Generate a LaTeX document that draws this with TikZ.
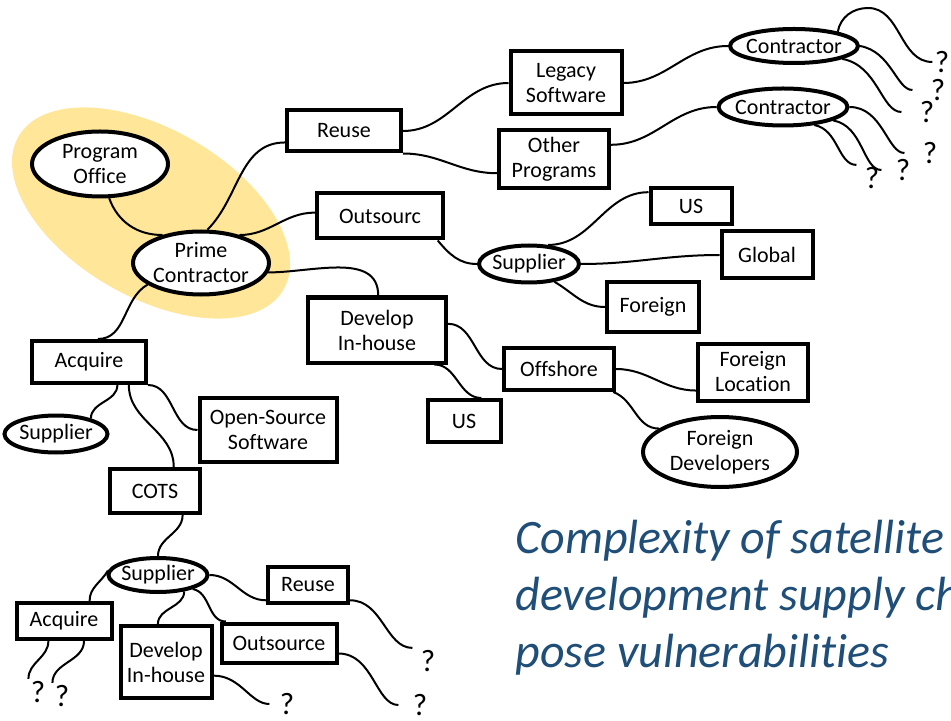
\documentclass[tikz,border=0pt]{standalone}
\usepackage{fontspec}
\setmainfont{Carlito}[Ligatures=NoCommon]
\usepackage{xcolor}
\usetikzlibrary{shapes.geometric}
\definecolor{haloYellow}{HTML}{FFE699}
\definecolor{titleBlue}{HTML}{1F4E79}

\begin{document}
\begin{tikzpicture}[
    x=0.5pt, y=0.5pt,
    dims/.style 2 args={minimum width=#1*0.5pt, minimum height=#2*0.5pt},
    chainbox/.style={draw, line width=2pt, rectangle, fill=white,
                     inner sep=0pt, align=center,
                     font=\fontsize{11}{12.5}\selectfont},
    chainoval/.style={draw, line width=2pt, ellipse, fill=white,
                      inner sep=-4pt, align=center,
                      font=\fontsize{11}{12.5}\selectfont},
    link/.style={line width=1pt},
    qmark/.style={inner sep=1pt, font=\fontsize{15.5}{16}\selectfont}
  ]
  \useasboundingbox (0,0) rectangle (951,-721);
  \clip (0,0) rectangle (951,-721);

  % highlight round the program office and the prime
  \fill[haloYellow] (151,-213) circle [x radius=153, y radius=84, rotate=-30];

  % top of the chain
  \node[chainoval, dims={136}{65}] (office) at (100,-164) {Program\\Office};
  \node[chainoval, dims={136}{63}] (prime)  at (201,-263) {Prime\\Contractor};

  % reuse branch
  \node[chainbox, dims={114}{41}]  (reuse)  at (344,-131) {Reuse};
  \node[chainbox, dims={111}{63}]  (legacy) at (566,-83)  {Legacy\\Software};
  \node[chainbox, dims={110}{58}]  (other)  at (554,-159) {Other\\Programs};
  \node[chainoval, dims={128}{34}] (conA)   at (794,-46)  {Contractor};
  \node[chainoval, dims={129}{37}] (conB)   at (783,-107) {Contractor};

  % outsource branch
  \node[chainbox, dims={126}{45}]  (outs)   at (380,-216) {Outsourc};
  \node[chainoval, dims={100}{37}] (supM)   at (529,-264) {Supplier};
  \node[chainbox, dims={81}{36}]   (usA)    at (691,-206) {US};
  \node[chainbox, dims={91}{47}]   (glob)   at (767,-255) {Global};
  \node[chainbox, dims={92}{50}]   (forn)   at (653,-307) {Foreign};

  % in-house branch
  \node[chainbox, dims={138}{65}]  (devM)   at (377,-330) {Develop\\In-house};
  \node[chainbox, dims={110}{42}]  (offs)   at (559,-369) {Offshore};
  \node[chainbox, dims={110}{57}]  (fLoc)   at (753,-372) {Foreign\\Location};
  \node[chainbox, dims={73}{42}]   (usB)    at (464,-421) {US};
  \node[chainoval, dims={154}{70}] (fDev)   at (720,-452) {Foreign\\Developers};

  % acquire branch
  \node[chainbox, dims={114}{42}]  (acqA)   at (89,-362)  {Acquire};
  \node[chainoval, dims={103}{37}] (supL)   at (56,-434)  {Supplier};
  \node[chainbox, dims={137}{64}]  (oss)    at (268,-430) {Open-Source\\Software};
  \node[chainbox, dims={90}{44}]   (cots)   at (155,-491) {COTS};
  \node[chainoval, dims={99}{34}]  (supB)   at (158,-575) {Supplier};
  \node[chainbox, dims={80}{36}]   (reuseB) at (308,-585) {Reuse};
  \node[chainbox, dims={95}{36}]   (acqB)   at (64,-621)  {Acquire};
  \node[chainbox, dims={91}{72}]   (devB)   at (166,-662) {Develop\\In-house};
  \node[chainbox, dims={115}{39}]  (outB)   at (279,-643) {Outsource};

  % unknown ends
  \node[qmark] (q1)  at (942,-62)  {?};
  \node[qmark] (q2)  at (938,-90)  {?};
  \node[qmark] (q3)  at (927,-112) {?};
  \node[qmark] (q4)  at (930,-153) {?};
  \node[qmark] (q5)  at (903,-170) {?};
  \node[qmark] (q6)  at (872,-178) {?};
  \node[qmark] (qa1) at (38,-692)  {?};
  \node[qmark] (qa2) at (62,-696)  {?};
  \node[qmark] (qd)  at (287,-704) {?};
  \node[qmark] (qr)  at (428,-661) {?};
  \node[qmark] (qo)  at (420,-705) {?};
  \coordinate (crest) at (868,-8);

  % links out of the prime
  \draw[link] (office.-75) to[out=-70,in=180] (prime.144);
  \draw[link] (prime.79)   to[out=45,in=180]  (reuse.191);
  \draw[link] (prime.36)   to[out=0,in=180]   (outs.177);
  \draw[link] (prime.-8)   to[out=0,in=90]    (devM.88);
  \draw[link] (prime.202)  to[out=-150,in=0]  (acqA.69);

  \draw[link] (reuse.east)       to[out=0,in=180] (legacy.west);
  \draw[link] (reuse.south east) to[out=0,in=180] (other.194);
  \draw[link] (legacy.east)      to[out=0,in=180] (conA.west);
  \draw[link] (other.14)         to[out=0,in=180] (conB.west);

  \draw[link] (conA.18) to[out=80,in=180] (crest) to[out=0,in=180] (q1.west);
  \draw[link, shorten >=8pt] (conA.east) to[out=-10,in=180] (q2.west);
  \draw[link, shorten >=8pt] (conA.-15)  to[out=-10,in=180] (q3.west);
  \draw[link, shorten >=8pt] (conB.east) to[out=0,in=180]   (q4.west);
  \draw[link, shorten >=6pt] (conB.-15)  to[out=-10,in=180] (q5.west);
  \draw[link, shorten >=3pt] (conB.-30)  to[out=-10,in=180] (q6.north west);

  \draw[link] (outs.-23) to[out=-50,in=180] (supM.west);
  \draw[link] (supM.45)  to[out=0,in=180]   (usA.162);
  \draw[link] (supM.east) to[out=0,in=180]  (glob.west);
  \draw[link] (supM.-35) to[out=-30,in=180] (forn.west);

  \draw[link] (devM.5)   to[out=0,in=180]   (offs.west);
  \draw[link] (devM.-31) to[out=0,in=180]   (usB.53);
  \draw[link] (offs.east) to[out=0,in=180]  (fLoc.198);
  \draw[link] (offs.-23) to[out=-20,in=180] (fDev.159);

  \draw[link] (acqA.-39) to[out=-90,in=90] (supL.24);
  \draw[link] (acqA.-30) to[out=-90,in=90] (cots.52);
  \draw[link] (acqA.south east) to[out=0,in=180] (oss.west);
  \draw[link] (cots.-41) to[out=-90,in=90] (supB.north);

  \draw[link] (supB.175) to[out=-120,in=90] (acqB.38);
  \draw[link] (supB.-32) to[out=-90,in=90]  (devB.102);
  \draw[link] (supB.-22) to[out=-10,in=180] (outB.158);
  \draw[link] (supB.east) to[out=0,in=180]  (reuseB.200);

  \draw[link, shorten >=3pt] (reuseB.-20) to[out=0,in=180] (qr.north west);
  \draw[link, shorten >=6pt] (outB.-10)   to[out=0,in=180] (qo.west);
  \draw[link, shorten >=4pt] (devB.-16)   to[out=0,in=180] (qd.west);
  \draw[link] (acqB.-128) to[out=-90,in=90] (qa1.north west);
  \draw[link] (acqB.-45)  to[out=-90,in=90] (qa2.north west);

  % caption (base is the last line)
  \node[anchor=base west, align=left, inner sep=0pt, text=titleBlue,
        font=\fontsize{24}{28.5}\selectfont\itshape] (caption) at (515,-667)
       {Complexity of satellite\\development supply ch\\pose vulnerabilities};
\end{tikzpicture}
\end{document}
